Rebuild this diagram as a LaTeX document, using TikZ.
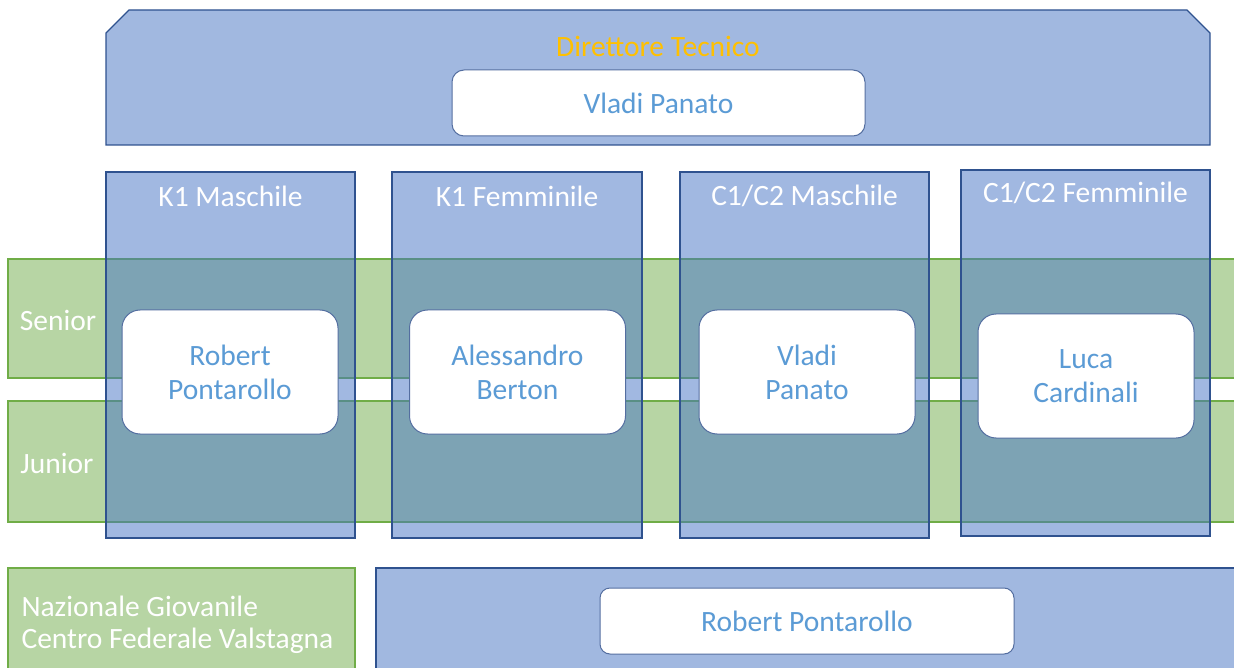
\documentclass[tikz,border=0pt]{standalone}
\usepackage{fontspec}
\setmainfont{Carlito}
\definecolor{fidblue}{RGB}{68,114,196}
\definecolor{fidblueline}{RGB}{47,82,143}
\definecolor{fidbanner}{RGB}{161,184,224}
\definecolor{fidgreen}{RGB}{183,213,164}
\definecolor{fidgreenline}{RGB}{112,173,71}
\definecolor{fidname}{RGB}{91,155,213}
\definecolor{fidyellow}{RGB}{255,192,0}
\definecolor{fidboxline}{RGB}{84,110,160}

\tikzset{
  banner/.style={fill=fidbanner, draw=fidblueline, line width=1.2pt},
  band/.style={fill=fidgreen, draw=fidgreenline, line width=1.2pt},
  column/.style={fill=fidblue, fill opacity=0.5, draw=fidblueline, draw opacity=1, line width=1.2pt},
  namebox/.style={draw=fidboxline, fill=white, rounded corners=18pt, line width=1pt,
    text=fidname, align=center, inner sep=0pt, minimum width=216pt, minimum height=124pt},
  headtext/.style={text=white}
}

\begin{document}
\begin{tikzpicture}[x=1pt,y=-1pt,every node/.style={font=\fontsize{29.5}{34}\selectfont}]
\useasboundingbox (0,0) rectangle (1234,668);
\clip (0,0) rectangle (1234,668);

% Direttore tecnico
\draw[banner] (106,145) -- (106,33) -- (129,10) -- (1187,10) -- (1210,33) -- (1210,145) -- cycle;
\node[text=fidyellow] (dt) at (658,46) {Direttore Tecnico};
\node[namebox, minimum width=413pt, minimum height=66pt, rounded corners=12pt] (dtname) at (658.5,103) {Vladi Panato};

% Senior / Junior bands
\draw[band] (8,259) rectangle (1250,378);
\draw[band] (8,401) rectangle (1250,522);
\node[headtext] (senior) at (58,320) {Senior};
\node[headtext] (junior) at (57,463) {Junior};

% Columns
\draw[column] (106,172) rectangle (355,538);
\draw[column] (392,172) rectangle (642,538);
\draw[column] (680,172) rectangle (929,538);
\draw[column] (961,170) rectangle (1210,536);

\node[headtext] (k1m) at (230.5,196) {K1 Maschile};
\node[headtext] (k1f) at (517,196) {K1 Femminile};
\node[headtext] (c1m) at (804.5,196) {C1/C2 Maschile};
\node[headtext] (c1f) at (1085.5,193) {C1/C2 Femminile};

\node[namebox] (k1mname) at (230,372) {Robert\\Pontarollo};
\node[namebox] (k1fname) at (517.5,372) {Alessandro\\Berton};
\node[namebox] (c1mname) at (807,372) {Vladi\\Panato};
\node[namebox] (c1fname) at (1086,376) {Luca\\Cardinali};

% Nazionale giovanile
\draw[band] (8,568) rectangle (355,690);
\node[headtext, anchor=west, align=left, font=\fontsize{29.5}{32}\selectfont] (ng) at (18,625) {Nazionale Giovanile\\Centro Federale Valstagna};
\draw[banner] (376,568) rectangle (1250,690);
\node[namebox, minimum width=414pt, minimum height=66pt, rounded corners=10pt] (ngname) at (807,621) {Robert Pontarollo};
\end{tikzpicture}
\end{document}
